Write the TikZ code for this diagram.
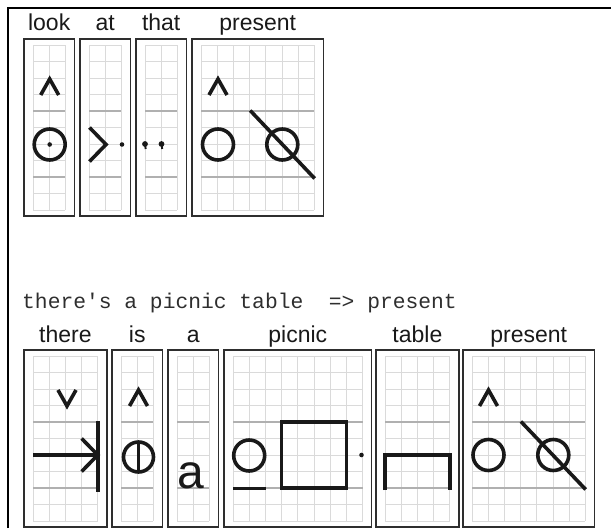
\documentclass[tikz,border=0pt]{standalone}
\usepackage{fontspec}
\setmainfont{Liberation Sans}
\setmonofont{Liberation Mono}
\usetikzlibrary{positioning}

\definecolor{gridgray}{HTML}{DADADA}
\definecolor{rulegray}{HTML}{B0B0B0}
\definecolor{inkgray}{HTML}{2E2E2E}

% one sign cell with its writing grid: name, left x, top y, columns
\newcommand{\signbox}[4]{%
  \foreach \k in {0,...,10}
    \draw[gridrule] (#2+9,#3+6+\k*16.5) -- ++(#4*16.2,0);
  \foreach \j in {0,...,#4}
    \draw[gridrule] (#2+9+\j*16.2,#3+6) -- ++(0,165);
  \draw[midrule] (#2+9,#3+72) -- ++(#4*16.2,0);
  \draw[midrule] (#2+9,#3+138) -- ++(#4*16.2,0);
  \node[signframe, minimum width={#4*16.2pt+18pt}] (#1) at (#2,#3) {};
}

\begin{document}
\begin{tikzpicture}[
  x=1pt, y=-1pt,
  gridrule/.style={draw=gridgray, line width=0.9pt},
  midrule/.style={draw=rulegray, line width=1.3pt},
  signframe/.style={draw=inkgray, line width=1.4pt, anchor=north west,
              minimum height=177pt, inner sep=0pt, outer sep=0pt},
  lbl/.style={font=\fontsize{23}{26}\selectfont, text=black!90, inner sep=0pt},
  sym/.style={draw=black!90, line width=3.6pt},
  dotmark/.style={fill=black!90},
]
\useasboundingbox (0,0) rectangle (611,528);

% outer frame
\draw[line width=1.5pt] (8,528) -- (8,8) -- (611,8);

% top row
\signbox{look}{24}{39}{2}
\signbox{at}{80}{39}{2}
\signbox{that}{136}{39}{2}
\signbox{presA}{192}{39}{7}

\node[lbl, above=9pt of look, anchor=base] (lLook) {look};
\node[lbl, above=9pt of at, anchor=base] (lAt) {at};
\node[lbl, above=9pt of that, anchor=base] (lThat) {that};
\node[lbl, above=9pt of presA, anchor=base] (lPresA) {present};

% look
\draw[sym, line join=miter] (40.7,95) -- (49.7,79) -- (58.7,95);
\draw[sym] (49.7,144.5) circle (15.5pt);
\fill[dotmark] (49.7,144.5) circle (2.3pt);
% at
\draw[sym, line join=miter] (89.5,127.5) -- (106,144.5) -- (89.5,161.5);
\fill[dotmark] (122,144.5) circle (2.3pt);
% that
\fill[dotmark] (145,144) circle (2.9pt);
\draw[line width=1.9pt, black!90] (145,144) -- (145.7,149);
\fill[dotmark] (161.5,144) circle (2.9pt);
\draw[line width=1.9pt, black!90] (161.5,144) -- (162.2,149);
% present
\draw[sym, line join=miter] (209,95) -- (218,79) -- (227,95);
\draw[sym] (218,144.5) circle (15.5pt);
\draw[sym] (282.3,144.5) circle (15.5pt);
\draw[sym] (250.2,110.5) -- (314.7,178.5);

% sentence
\node[anchor=base west, inner sep=0pt, text=inkgray,
  font=\ttfamily\fontsize{21.3}{24}\selectfont] (sent) at (22,308)
  {there's a picnic table\ \ => present};

% bottom row
\signbox{there}{24}{350}{4}
\signbox{is}{112}{350}{2}
\signbox{a}{168}{350}{2}
\signbox{picnic}{224}{350}{8}
\signbox{table}{376}{350}{4}
\signbox{presB}{463}{350}{7}

\node[lbl, above=8pt of there, anchor=base] (lThere) {there};
\node[lbl, above=8pt of is, anchor=base] (lIs) {is};
\node[lbl, above=8pt of a, anchor=base] (lA) {a};
\node[lbl, above=8pt of picnic, anchor=base] (lPicnic) {picnic};
\node[lbl, above=8pt of table, anchor=base] (lTable) {table};
\node[lbl, above=8pt of presB, anchor=base] (lPresB) {present};

% there
\draw[sym, line join=miter] (58,390) -- (67,406) -- (76,390);
\draw[sym] (33,455) -- (97.8,455);
\draw[sym, line join=miter] (81.6,438.5) -- (97.8,455) -- (81.6,471.5);
\draw[sym] (97.8,421) -- (97.8,492);
% is
\draw[sym, line join=miter] (129.5,406) -- (138.5,390) -- (147.5,406);
\draw[sym] (138.5,457) circle (15pt);
\draw[sym] (138.5,441) -- (138.5,473);
% a
\node[anchor=base west, inner sep=0pt, text=black!90,
  font=\fontsize{48}{50}\selectfont] (aGlyph) at (177,488) {a};
% picnic
\draw[sym] (249.2,455.5) circle (15.5pt);
\draw[sym] (233,488.5) -- (266,488.5);
\draw[sym] (281.6,422) rectangle (346.4,488);
\fill[dotmark] (361.5,455) circle (2.3pt);
% table
\draw[sym] (385,490) -- (385,455) -- (449.8,455) -- (449.8,490);
% present
\draw[sym, line join=miter] (479.5,406) -- (488.5,390) -- (497.5,406);
\draw[sym] (488.5,455) circle (15.5pt);
\draw[sym] (553.3,455) circle (15.5pt);
\draw[sym] (520.9,421.5) -- (585.7,489.5);

\end{tikzpicture}
\end{document}
